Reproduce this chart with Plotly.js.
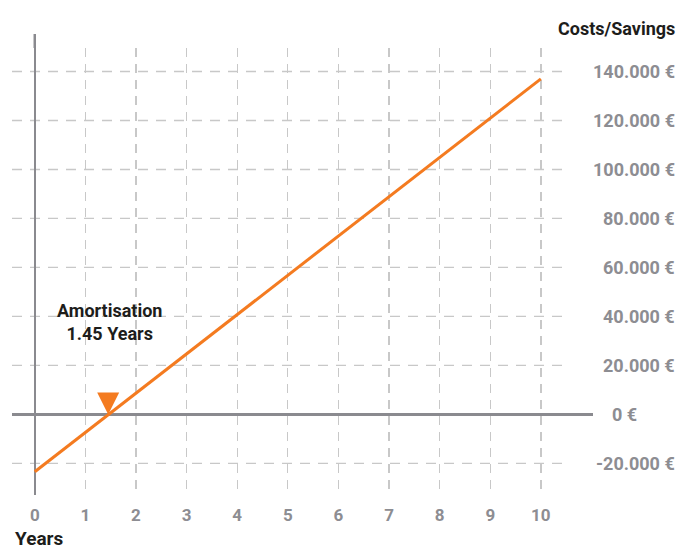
<!DOCTYPE html>
<html>
<head>
<meta charset="utf-8">
<script src="https://cdn.plot.ly/plotly-3.0.1.min.js"></script>
<style>html,body{margin:0;padding:0;background:#fff;}#chart{width:680px;height:549px;}</style>
</head>
<body>
<div id="chart"></div>
<script>
// Data
var years = [0, 10];
var cumulative = [-23400, 137000];
var amortYears = 1.45;
var xTickVals = [0, 1, 2, 3, 4, 5, 6, 7, 8, 9, 10];
var xTickText = ["0", "1", "2", "3", "4", "5", "6", "7", "8", "9", "10"];
var yTickVals = [-20000, 0, 20000, 40000, 60000, 80000, 100000, 120000, 140000];
var yTickText = ["-20.000 €", "0 €", "20.000 €", "40.000 €", "60.000 €", "80.000 €", "100.000 €", "120.000 €", "140.000 €"];

var FONT = "Roboto, 'Liberation Sans', sans-serif";
var GRAY = "#8d8d92";
var DARK = "#1d1d1b";
var ORANGE = "#f47b20";
var AXIS = "#8a8a8f";
var GRID = "#c8c8c8";

var xRange = [-0.45, 11.03];
var gridXEnd = 10.47;
var yRange = [-32900, 149600];

var traces = [
  {x: years, y: cumulative, type: "scatter", mode: "lines",
   line: {color: ORANGE, width: 3}, hoverinfo: "skip", cliponaxis: false},
  {x: [amortYears], y: [0], type: "scatter", mode: "markers",
   marker: {symbol: "arrow-down", size: 22, color: ORANGE, line: {width: 0}},
   hoverinfo: "skip", cliponaxis: false}
];

var annotations = yTickVals.map(function (v, i) {
  var isZero = (v === 0);
  return {
    xref: "paper", yref: "y",
    x: isZero ? 1.0293 : 1.1440, y: v,
    xanchor: isZero ? "left" : "right", yanchor: "middle",
    text: yTickText[i], showarrow: false,
    font: {family: FONT, size: 18, color: GRAY, weight: "bold"}
  };
});
annotations.push({
  xref: "paper", yref: "paper", x: 1.1446, y: 1.0447,
  xanchor: "right", yanchor: "middle", text: "Costs/Savings", showarrow: false,
  font: {family: FONT, size: 18, color: DARK, weight: "bold"}
});
annotations.push({
  xref: "paper", yref: "paper", x: 0.0017, y: -0.098,
  xanchor: "left", yanchor: "middle", text: "Years", showarrow: false,
  font: {family: FONT, size: 19, color: DARK, weight: "bold"}
});
annotations.push({
  xref: "x", yref: "y", x: 1.48, y: 37800,
  xanchor: "center", yanchor: "middle", align: "center",
  text: "Amortisation<br>" + amortYears.toFixed(2) + " Years", showarrow: false,
  font: {family: FONT, size: 18, color: DARK, weight: "bold"}
});

// horizontal dashed grid (stops short of the zero line's run-out)
var shapes = yTickVals.filter(function (v) { return v !== 0; }).map(function (v) {
  return {type: "line", xref: "x", yref: "y", x0: xRange[0], x1: gridXEnd, y0: v, y1: v,
          line: {color: GRID, width: 1.3, dash: "10px,8px"}, layer: "below"};
});
// vertical axis line, running on above the plot area
shapes.push({type: "line", xref: "x", yref: "paper", x0: 0, x1: 0, y0: 1, y1: 1.0313,
   line: {color: AXIS, width: 2.5}, layer: "below"});

var layout = {
  width: 680, height: 549,
  margin: {l: 12, r: 87, t: 48, b: 54, pad: 0},
  paper_bgcolor: "#ffffff", plot_bgcolor: "rgba(0,0,0,0)",
  showlegend: false,
  xaxis: {
    range: xRange, tickmode: "array", tickvals: xTickVals, ticktext: xTickText,
    showgrid: true, gridcolor: GRID, gridwidth: 1.3, griddash: "9px,7px",
    zeroline: true, zerolinecolor: AXIS, zerolinewidth: 2.5,
    showline: false, ticks: "",
    ticklabelstandoff: 8,
    tickfont: {family: FONT, size: 17, color: GRAY, weight: "bold"},
    fixedrange: true
  },
  yaxis: {
    range: yRange, tickmode: "array", tickvals: yTickVals,
    showgrid: false,
    zeroline: true, zerolinecolor: AXIS, zerolinewidth: 2.5,
    showline: false, ticks: "", showticklabels: false,
    fixedrange: true
  },
  annotations: annotations,
  shapes: shapes
};

Plotly.newPlot("chart", traces, layout, {displayModeBar: false, staticPlot: true});
</script>
</body>
</html>
